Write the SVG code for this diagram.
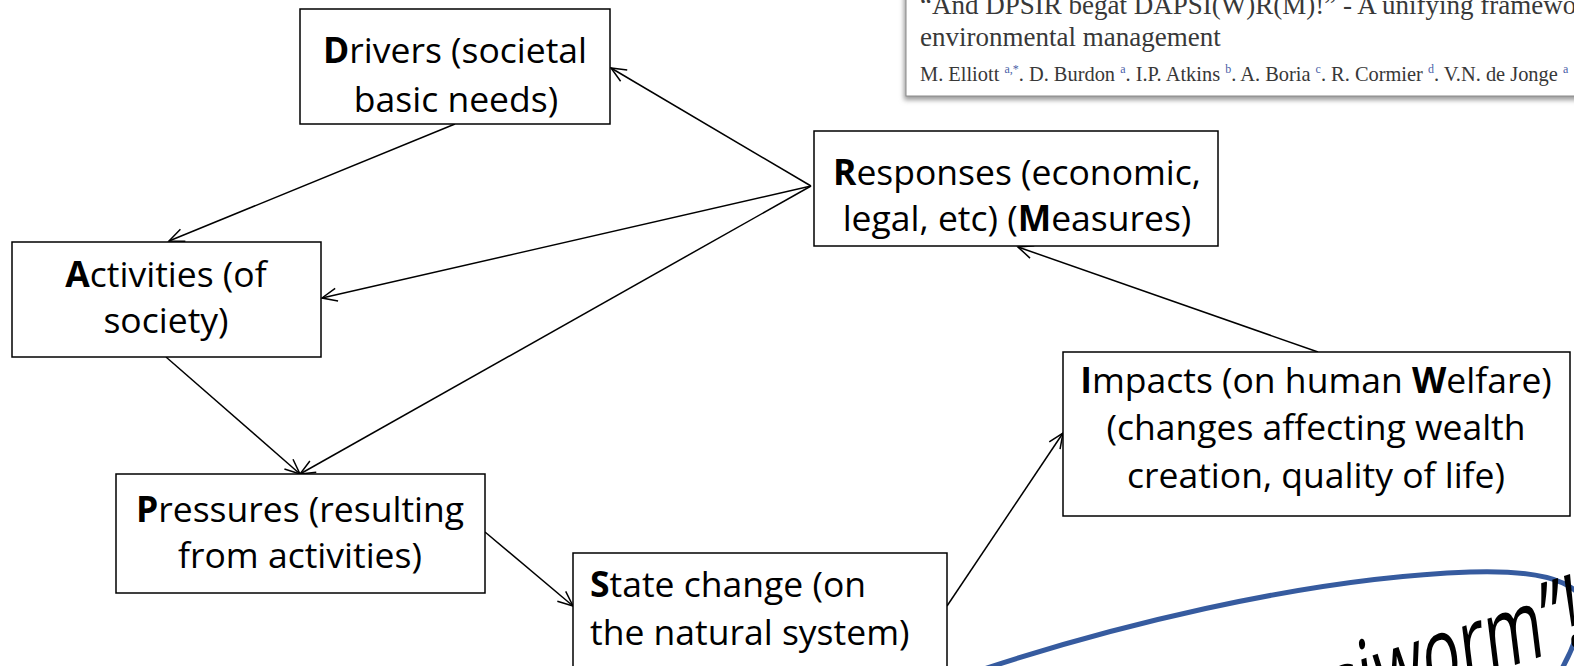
<svg xmlns="http://www.w3.org/2000/svg" width="1574" height="666" viewBox="0 0 1574 666">
<style>
.box{fill:#fff;stroke:#000;stroke-width:1.5}
.t{font-family:"Open Sans","Noto Sans",sans-serif;font-size:35.5px;fill:#000}
.c{text-anchor:middle}
.b{font-weight:bold}
.conn line{stroke:#000;stroke-width:1.5;marker-end:url(#arr)}
.cite{font-family:"Liberation Serif",serif;fill:#383838}
.sup{fill:#4a5fa8;font-size:12px}
</style>
<defs>
<marker id="arr" viewBox="-17 -9 19 18" refX="0" refY="0" markerWidth="19" markerHeight="18" markerUnits="userSpaceOnUse" orient="auto" overflow="visible">
<path d="M-15,-6.5 L0,0 L-15,6.5" fill="none" stroke="#000" stroke-width="1.5"/>
</marker>
<filter id="sh" x="-5%" y="-20%" width="110%" height="150%">
<feGaussianBlur stdDeviation="2.5"/>
</filter>
<path id="arc" d="M1100,501.25 Q1333,451.25 1584,401.9"/>
</defs>

<g id="citation">
<rect x="904" y="-10" width="700" height="110" fill="#9a9a9a" filter="url(#sh)"/>
<rect x="906" y="-10" width="700" height="106" fill="#fff" stroke="#8a8a8a" stroke-width="1"/>
<text class="cite" x="920" y="14" font-size="27">“And DPSIR begat DAPSI(W)R(M)!” - A unifying framework for marine</text>
<text class="cite" x="920" y="46" font-size="27">environmental management</text>
<text class="cite" x="920" y="81" font-size="20.4" fill="#4e4e4e">M. Elliott <tspan class="sup" dy="-8">a,*</tspan><tspan dy="8">. D. Burdon </tspan><tspan class="sup" dy="-8">a</tspan><tspan dy="8">. I.P. Atkins </tspan><tspan class="sup" dy="-8">b</tspan><tspan dy="8">. A. Boria </tspan><tspan class="sup" dy="-8">c</tspan><tspan dy="8">. R. Cormier </tspan><tspan class="sup" dy="-8">d</tspan><tspan dy="8">. V.N. de Jonge </tspan><tspan class="sup" dy="-8">a</tspan></text>
</g>

<g id="worm">
<path d="M975,672 C1100,630 1300,578 1470,572 C1560,569 1590,590 1583,615 C1578,635 1570,655 1560,672" fill="none" stroke="#365b9f" stroke-width="5"/>
<text transform="scale(1,1.6)" font-family="Open Sans, Noto Sans, sans-serif" font-size="63" fill="#000"><textPath href="#arc" startOffset="100%" text-anchor="end">“Dapsiworm”!</textPath></text>
</g>

<g class="conn" id="connectors">
<line x1="455" y1="124" x2="169" y2="241"/>
<line x1="811" y1="186" x2="611" y2="68"/>
<line x1="811" y1="186" x2="322" y2="298"/>
<line x1="811" y1="186" x2="300" y2="474"/>
<line x1="166" y1="357" x2="300" y2="474"/>
<line x1="485" y1="532" x2="573" y2="606"/>
<line x1="947" y1="606" x2="1063" y2="433"/>
<line x1="1318" y1="352" x2="1018" y2="247"/>
</g>

<g id="drivers">
<rect class="box" x="300" y="9" width="310" height="115"/>
<text class="t c" x="455" y="63"><tspan class="b">D</tspan>rivers (societal</text>
<text class="t c" x="456" y="112">basic needs)</text>
</g>

<g id="activities">
<rect class="box" x="12" y="242" width="309" height="115"/>
<text class="t c" x="166" y="287"><tspan class="b">A</tspan>ctivities (of</text>
<text class="t c" x="166" y="333">society)</text>
</g>

<g id="pressures">
<rect class="box" x="116" y="474" width="369" height="119"/>
<text class="t c" x="300" y="522"><tspan class="b">P</tspan>ressures (resulting</text>
<text class="t c" x="300" y="568">from activities)</text>
</g>

<g id="state">
<rect class="box" x="573" y="553" width="374" height="130"/>
<text class="t" x="590" y="597"><tspan class="b">S</tspan>tate change (on</text>
<text class="t" x="590" y="645">the natural system)</text>
</g>

<g id="responses">
<rect class="box" x="814" y="131" width="404" height="115"/>
<text class="t c" x="1017" y="185"><tspan class="b">R</tspan>esponses (economic,</text>
<text class="t c" x="1017" y="231">legal, etc) (<tspan class="b">M</tspan>easures)</text>
</g>

<g id="impacts">
<rect class="box" x="1063" y="352" width="507" height="164"/>
<text class="t c" x="1316" y="393"><tspan class="b">I</tspan>mpacts (on human <tspan class="b">W</tspan>elfare)</text>
<text class="t c" x="1316" y="440">(changes affecting wealth</text>
<text class="t c" x="1316" y="488">creation, quality of life)</text>
</g>
</svg>
